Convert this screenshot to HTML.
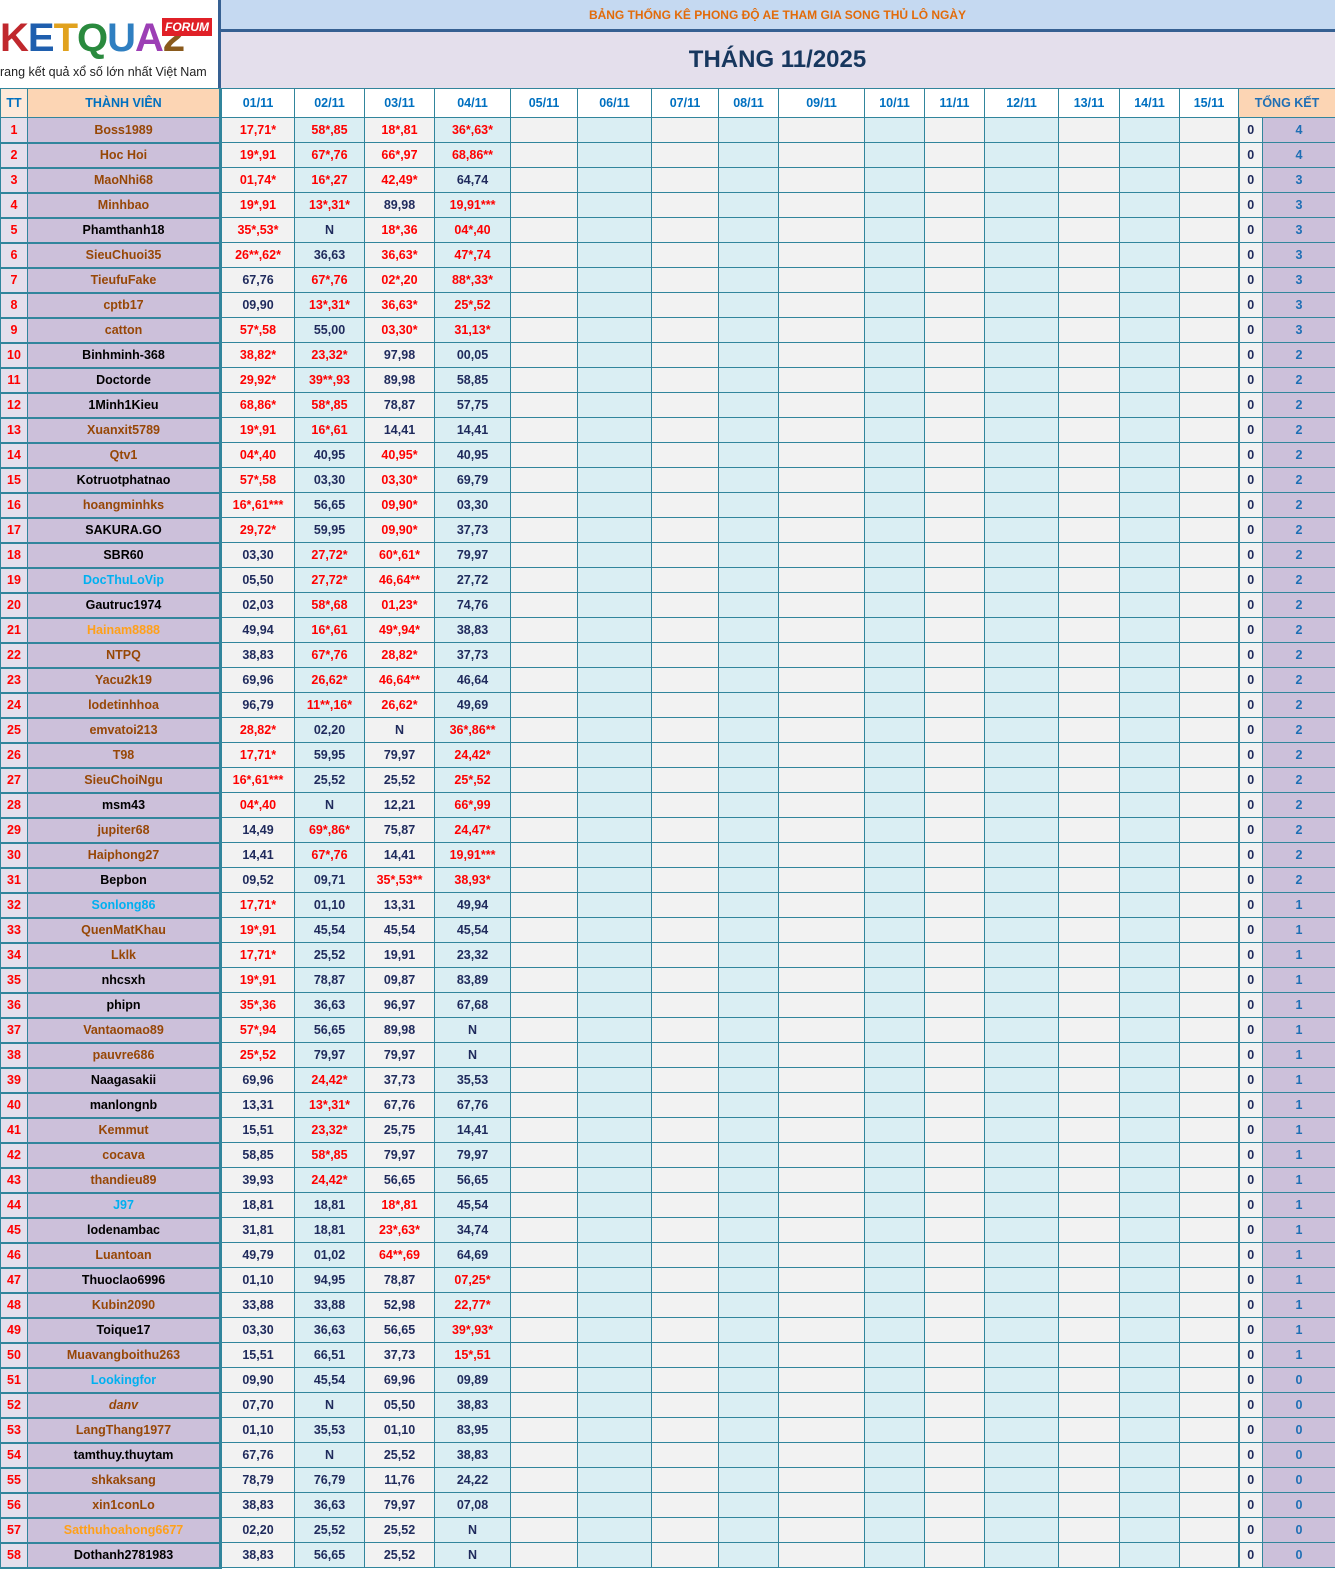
<!DOCTYPE html>
<html><head><meta charset="utf-8">
<style>
*{margin:0;padding:0;box-sizing:border-box}
body{width:1335px;height:1567px;background:#fff;font-family:"Liberation Sans","DejaVu Sans",sans-serif;font-weight:bold;position:relative;overflow:hidden}
#logo{position:absolute;left:0;top:0;width:218px;height:88px;background:#fff;overflow:hidden}
#top1{position:absolute;left:220px;top:0;width:1115px;height:30px;background:#c5d9f1;color:#e26b0a;font-size:12px;text-align:center;line-height:30px;font-weight:bold}
#bar{position:absolute;left:220px;top:29px;width:1115px;height:3px;background:#366092}
#top2{position:absolute;left:220px;top:32px;width:1115px;height:56px;background:#e4dfec;color:#17375e;font-size:24px;text-align:center;line-height:56px}
#vline{position:absolute;left:218px;top:0;width:3px;height:89px;background:#366092}
table{position:absolute;left:0;top:88px;border-collapse:collapse;table-layout:fixed;width:1335px}
td{border:1px solid #31859c;height:25px;text-align:center;font-size:12.5px;color:#1f2a5c;white-space:nowrap;overflow:hidden;padding:0}
tr.h td{height:29px;background:#fff;color:#0070c0;font-size:12.5px}
tr.h td:nth-child(1){background:#fde9d9;color:#0070c0}
tr.h td:nth-child(2){background:#fcd5b4;border-right:3px solid #31859c}
tr.h td.tk{background:#fcd5b4;color:#1f6fb5}
tbody tr:not(.h) td:nth-child(1){background:#e4dfec;color:#f00;border-bottom:2px solid #31859c}
tbody tr:not(.h) td:nth-child(2){background:#ccc0da;border-right:3px solid #31859c;border-bottom:2px solid #31859c}
tbody tr:not(.h) td:nth-child(odd){background:#f2f2f2}
tbody tr:not(.h) td:nth-child(even){background:#daeef3}
tbody tr:not(.h) td:nth-child(2){background:#ccc0da}
tbody tr:not(.h) td:nth-child(1){background:#e4dfec}
tbody tr:not(.h) td:nth-child(18){background:#f2f2f2;border-left:2px solid #31859c;color:#1f2a5c}
tbody tr:not(.h) td:nth-child(19){background:#ccc0da;color:#1f6fb5}
.r{color:#f00}
.b{color:#974706}.k{color:#000}.c{color:#00b0f0}.o{color:#ffa019}.i{font-style:italic}
</style></head><body>
<div id="logo">
<div style="position:absolute;left:0;top:16px;font-size:40px;font-weight:bold;letter-spacing:-1px;line-height:44px;white-space:nowrap"><span style="color:#c0282d">K</span><span style="color:#1f5fae">E</span><span style="color:#e1a21e">T</span><span style="color:#2a8a3e">Q</span><span style="color:#2f7fc1">U</span><span style="color:#9c3fb5">A</span><span style="color:#8a5a1c">2</span></div>
<div style="position:absolute;left:162px;top:18px;width:50px;height:18px;background:#e02027;color:#fff;font-size:12px;font-style:italic;text-align:center;line-height:18px">FORUM</div>
<div style="position:absolute;left:0;top:65px;font-size:12.5px;font-weight:normal;color:#222;white-space:nowrap">rang kết quả xổ số lớn nhất Việt Nam</div>
</div>
<div id="top1">BẢNG THỐNG KÊ PHONG ĐỘ AE THAM GIA SONG THỦ LÔ NGÀY</div>
<div id="bar"></div>
<div id="top2">THÁNG 11/2025</div>
<div id="vline"></div>
<table>
<colgroup><col style="width:27px"><col style="width:193px"><col style="width:74px"><col style="width:70px"><col style="width:70px"><col style="width:76px"><col style="width:67px"><col style="width:74px"><col style="width:67px"><col style="width:60px"><col style="width:86px"><col style="width:60px"><col style="width:60px"><col style="width:74px"><col style="width:61px"><col style="width:60px"><col style="width:59px"><col style="width:24px"><col style="width:73px"></colgroup>
<tbody>
<tr class="h"><td>TT</td><td>THÀNH VIÊN</td><td>01/11</td><td>02/11</td><td>03/11</td><td>04/11</td><td>05/11</td><td>06/11</td><td>07/11</td><td>08/11</td><td>09/11</td><td>10/11</td><td>11/11</td><td>12/11</td><td>13/11</td><td>14/11</td><td>15/11</td><td class="tk" colspan="2">TỔNG KẾT</td></tr>
<tr><td>1</td><td class="b">Boss1989</td><td class="r">17,71*</td><td class="r">58*,85</td><td class="r">18*,81</td><td class="r">36*,63*</td><td></td><td></td><td></td><td></td><td></td><td></td><td></td><td></td><td></td><td></td><td></td><td>0</td><td>4</td></tr>
<tr><td>2</td><td class="b">Hoc Hoi</td><td class="r">19*,91</td><td class="r">67*,76</td><td class="r">66*,97</td><td class="r">68,86**</td><td></td><td></td><td></td><td></td><td></td><td></td><td></td><td></td><td></td><td></td><td></td><td>0</td><td>4</td></tr>
<tr><td>3</td><td class="b">MaoNhi68</td><td class="r">01,74*</td><td class="r">16*,27</td><td class="r">42,49*</td><td>64,74</td><td></td><td></td><td></td><td></td><td></td><td></td><td></td><td></td><td></td><td></td><td></td><td>0</td><td>3</td></tr>
<tr><td>4</td><td class="b">Minhbao</td><td class="r">19*,91</td><td class="r">13*,31*</td><td>89,98</td><td class="r">19,91***</td><td></td><td></td><td></td><td></td><td></td><td></td><td></td><td></td><td></td><td></td><td></td><td>0</td><td>3</td></tr>
<tr><td>5</td><td class="k">Phamthanh18</td><td class="r">35*,53*</td><td>N</td><td class="r">18*,36</td><td class="r">04*,40</td><td></td><td></td><td></td><td></td><td></td><td></td><td></td><td></td><td></td><td></td><td></td><td>0</td><td>3</td></tr>
<tr><td>6</td><td class="b">SieuChuoi35</td><td class="r">26**,62*</td><td>36,63</td><td class="r">36,63*</td><td class="r">47*,74</td><td></td><td></td><td></td><td></td><td></td><td></td><td></td><td></td><td></td><td></td><td></td><td>0</td><td>3</td></tr>
<tr><td>7</td><td class="b">TieufuFake</td><td>67,76</td><td class="r">67*,76</td><td class="r">02*,20</td><td class="r">88*,33*</td><td></td><td></td><td></td><td></td><td></td><td></td><td></td><td></td><td></td><td></td><td></td><td>0</td><td>3</td></tr>
<tr><td>8</td><td class="b">cptb17</td><td>09,90</td><td class="r">13*,31*</td><td class="r">36,63*</td><td class="r">25*,52</td><td></td><td></td><td></td><td></td><td></td><td></td><td></td><td></td><td></td><td></td><td></td><td>0</td><td>3</td></tr>
<tr><td>9</td><td class="b">catton</td><td class="r">57*,58</td><td>55,00</td><td class="r">03,30*</td><td class="r">31,13*</td><td></td><td></td><td></td><td></td><td></td><td></td><td></td><td></td><td></td><td></td><td></td><td>0</td><td>3</td></tr>
<tr><td>10</td><td class="k">Binhminh-368</td><td class="r">38,82*</td><td class="r">23,32*</td><td>97,98</td><td>00,05</td><td></td><td></td><td></td><td></td><td></td><td></td><td></td><td></td><td></td><td></td><td></td><td>0</td><td>2</td></tr>
<tr><td>11</td><td class="k">Doctorde</td><td class="r">29,92*</td><td class="r">39**,93</td><td>89,98</td><td>58,85</td><td></td><td></td><td></td><td></td><td></td><td></td><td></td><td></td><td></td><td></td><td></td><td>0</td><td>2</td></tr>
<tr><td>12</td><td class="k">1Minh1Kieu</td><td class="r">68,86*</td><td class="r">58*,85</td><td>78,87</td><td>57,75</td><td></td><td></td><td></td><td></td><td></td><td></td><td></td><td></td><td></td><td></td><td></td><td>0</td><td>2</td></tr>
<tr><td>13</td><td class="b">Xuanxit5789</td><td class="r">19*,91</td><td class="r">16*,61</td><td>14,41</td><td>14,41</td><td></td><td></td><td></td><td></td><td></td><td></td><td></td><td></td><td></td><td></td><td></td><td>0</td><td>2</td></tr>
<tr><td>14</td><td class="b">Qtv1</td><td class="r">04*,40</td><td>40,95</td><td class="r">40,95*</td><td>40,95</td><td></td><td></td><td></td><td></td><td></td><td></td><td></td><td></td><td></td><td></td><td></td><td>0</td><td>2</td></tr>
<tr><td>15</td><td class="k">Kotruotphatnao</td><td class="r">57*,58</td><td>03,30</td><td class="r">03,30*</td><td>69,79</td><td></td><td></td><td></td><td></td><td></td><td></td><td></td><td></td><td></td><td></td><td></td><td>0</td><td>2</td></tr>
<tr><td>16</td><td class="b">hoangminhks</td><td class="r">16*,61***</td><td>56,65</td><td class="r">09,90*</td><td>03,30</td><td></td><td></td><td></td><td></td><td></td><td></td><td></td><td></td><td></td><td></td><td></td><td>0</td><td>2</td></tr>
<tr><td>17</td><td class="k">SAKURA.GO</td><td class="r">29,72*</td><td>59,95</td><td class="r">09,90*</td><td>37,73</td><td></td><td></td><td></td><td></td><td></td><td></td><td></td><td></td><td></td><td></td><td></td><td>0</td><td>2</td></tr>
<tr><td>18</td><td class="k">SBR60</td><td>03,30</td><td class="r">27,72*</td><td class="r">60*,61*</td><td>79,97</td><td></td><td></td><td></td><td></td><td></td><td></td><td></td><td></td><td></td><td></td><td></td><td>0</td><td>2</td></tr>
<tr><td>19</td><td class="c">DocThuLoVip</td><td>05,50</td><td class="r">27,72*</td><td class="r">46,64**</td><td>27,72</td><td></td><td></td><td></td><td></td><td></td><td></td><td></td><td></td><td></td><td></td><td></td><td>0</td><td>2</td></tr>
<tr><td>20</td><td class="k">Gautruc1974</td><td>02,03</td><td class="r">58*,68</td><td class="r">01,23*</td><td>74,76</td><td></td><td></td><td></td><td></td><td></td><td></td><td></td><td></td><td></td><td></td><td></td><td>0</td><td>2</td></tr>
<tr><td>21</td><td class="o">Hainam8888</td><td>49,94</td><td class="r">16*,61</td><td class="r">49*,94*</td><td>38,83</td><td></td><td></td><td></td><td></td><td></td><td></td><td></td><td></td><td></td><td></td><td></td><td>0</td><td>2</td></tr>
<tr><td>22</td><td class="b">NTPQ</td><td>38,83</td><td class="r">67*,76</td><td class="r">28,82*</td><td>37,73</td><td></td><td></td><td></td><td></td><td></td><td></td><td></td><td></td><td></td><td></td><td></td><td>0</td><td>2</td></tr>
<tr><td>23</td><td class="b">Yacu2k19</td><td>69,96</td><td class="r">26,62*</td><td class="r">46,64**</td><td>46,64</td><td></td><td></td><td></td><td></td><td></td><td></td><td></td><td></td><td></td><td></td><td></td><td>0</td><td>2</td></tr>
<tr><td>24</td><td class="b">lodetinhhoa</td><td>96,79</td><td class="r">11**,16*</td><td class="r">26,62*</td><td>49,69</td><td></td><td></td><td></td><td></td><td></td><td></td><td></td><td></td><td></td><td></td><td></td><td>0</td><td>2</td></tr>
<tr><td>25</td><td class="b">emvatoi213</td><td class="r">28,82*</td><td>02,20</td><td>N</td><td class="r">36*,86**</td><td></td><td></td><td></td><td></td><td></td><td></td><td></td><td></td><td></td><td></td><td></td><td>0</td><td>2</td></tr>
<tr><td>26</td><td class="b">T98</td><td class="r">17,71*</td><td>59,95</td><td>79,97</td><td class="r">24,42*</td><td></td><td></td><td></td><td></td><td></td><td></td><td></td><td></td><td></td><td></td><td></td><td>0</td><td>2</td></tr>
<tr><td>27</td><td class="b">SieuChoiNgu</td><td class="r">16*,61***</td><td>25,52</td><td>25,52</td><td class="r">25*,52</td><td></td><td></td><td></td><td></td><td></td><td></td><td></td><td></td><td></td><td></td><td></td><td>0</td><td>2</td></tr>
<tr><td>28</td><td class="k">msm43</td><td class="r">04*,40</td><td>N</td><td>12,21</td><td class="r">66*,99</td><td></td><td></td><td></td><td></td><td></td><td></td><td></td><td></td><td></td><td></td><td></td><td>0</td><td>2</td></tr>
<tr><td>29</td><td class="b">jupiter68</td><td>14,49</td><td class="r">69*,86*</td><td>75,87</td><td class="r">24,47*</td><td></td><td></td><td></td><td></td><td></td><td></td><td></td><td></td><td></td><td></td><td></td><td>0</td><td>2</td></tr>
<tr><td>30</td><td class="b">Haiphong27</td><td>14,41</td><td class="r">67*,76</td><td>14,41</td><td class="r">19,91***</td><td></td><td></td><td></td><td></td><td></td><td></td><td></td><td></td><td></td><td></td><td></td><td>0</td><td>2</td></tr>
<tr><td>31</td><td class="k">Bepbon</td><td>09,52</td><td>09,71</td><td class="r">35*,53**</td><td class="r">38,93*</td><td></td><td></td><td></td><td></td><td></td><td></td><td></td><td></td><td></td><td></td><td></td><td>0</td><td>2</td></tr>
<tr><td>32</td><td class="c">Sonlong86</td><td class="r">17,71*</td><td>01,10</td><td>13,31</td><td>49,94</td><td></td><td></td><td></td><td></td><td></td><td></td><td></td><td></td><td></td><td></td><td></td><td>0</td><td>1</td></tr>
<tr><td>33</td><td class="b">QuenMatKhau</td><td class="r">19*,91</td><td>45,54</td><td>45,54</td><td>45,54</td><td></td><td></td><td></td><td></td><td></td><td></td><td></td><td></td><td></td><td></td><td></td><td>0</td><td>1</td></tr>
<tr><td>34</td><td class="b">Lklk</td><td class="r">17,71*</td><td>25,52</td><td>19,91</td><td>23,32</td><td></td><td></td><td></td><td></td><td></td><td></td><td></td><td></td><td></td><td></td><td></td><td>0</td><td>1</td></tr>
<tr><td>35</td><td class="k">nhcsxh</td><td class="r">19*,91</td><td>78,87</td><td>09,87</td><td>83,89</td><td></td><td></td><td></td><td></td><td></td><td></td><td></td><td></td><td></td><td></td><td></td><td>0</td><td>1</td></tr>
<tr><td>36</td><td class="k">phipn</td><td class="r">35*,36</td><td>36,63</td><td>96,97</td><td>67,68</td><td></td><td></td><td></td><td></td><td></td><td></td><td></td><td></td><td></td><td></td><td></td><td>0</td><td>1</td></tr>
<tr><td>37</td><td class="b">Vantaomao89</td><td class="r">57*,94</td><td>56,65</td><td>89,98</td><td>N</td><td></td><td></td><td></td><td></td><td></td><td></td><td></td><td></td><td></td><td></td><td></td><td>0</td><td>1</td></tr>
<tr><td>38</td><td class="b">pauvre686</td><td class="r">25*,52</td><td>79,97</td><td>79,97</td><td>N</td><td></td><td></td><td></td><td></td><td></td><td></td><td></td><td></td><td></td><td></td><td></td><td>0</td><td>1</td></tr>
<tr><td>39</td><td class="k">Naagasakii</td><td>69,96</td><td class="r">24,42*</td><td>37,73</td><td>35,53</td><td></td><td></td><td></td><td></td><td></td><td></td><td></td><td></td><td></td><td></td><td></td><td>0</td><td>1</td></tr>
<tr><td>40</td><td class="k">manlongnb</td><td>13,31</td><td class="r">13*,31*</td><td>67,76</td><td>67,76</td><td></td><td></td><td></td><td></td><td></td><td></td><td></td><td></td><td></td><td></td><td></td><td>0</td><td>1</td></tr>
<tr><td>41</td><td class="b">Kemmut</td><td>15,51</td><td class="r">23,32*</td><td>25,75</td><td>14,41</td><td></td><td></td><td></td><td></td><td></td><td></td><td></td><td></td><td></td><td></td><td></td><td>0</td><td>1</td></tr>
<tr><td>42</td><td class="b">cocava</td><td>58,85</td><td class="r">58*,85</td><td>79,97</td><td>79,97</td><td></td><td></td><td></td><td></td><td></td><td></td><td></td><td></td><td></td><td></td><td></td><td>0</td><td>1</td></tr>
<tr><td>43</td><td class="b">thandieu89</td><td>39,93</td><td class="r">24,42*</td><td>56,65</td><td>56,65</td><td></td><td></td><td></td><td></td><td></td><td></td><td></td><td></td><td></td><td></td><td></td><td>0</td><td>1</td></tr>
<tr><td>44</td><td class="c">J97</td><td>18,81</td><td>18,81</td><td class="r">18*,81</td><td>45,54</td><td></td><td></td><td></td><td></td><td></td><td></td><td></td><td></td><td></td><td></td><td></td><td>0</td><td>1</td></tr>
<tr><td>45</td><td class="k">lodenambac</td><td>31,81</td><td>18,81</td><td class="r">23*,63*</td><td>34,74</td><td></td><td></td><td></td><td></td><td></td><td></td><td></td><td></td><td></td><td></td><td></td><td>0</td><td>1</td></tr>
<tr><td>46</td><td class="b">Luantoan</td><td>49,79</td><td>01,02</td><td class="r">64**,69</td><td>64,69</td><td></td><td></td><td></td><td></td><td></td><td></td><td></td><td></td><td></td><td></td><td></td><td>0</td><td>1</td></tr>
<tr><td>47</td><td class="k">Thuoclao6996</td><td>01,10</td><td>94,95</td><td>78,87</td><td class="r">07,25*</td><td></td><td></td><td></td><td></td><td></td><td></td><td></td><td></td><td></td><td></td><td></td><td>0</td><td>1</td></tr>
<tr><td>48</td><td class="b">Kubin2090</td><td>33,88</td><td>33,88</td><td>52,98</td><td class="r">22,77*</td><td></td><td></td><td></td><td></td><td></td><td></td><td></td><td></td><td></td><td></td><td></td><td>0</td><td>1</td></tr>
<tr><td>49</td><td class="k">Toique17</td><td>03,30</td><td>36,63</td><td>56,65</td><td class="r">39*,93*</td><td></td><td></td><td></td><td></td><td></td><td></td><td></td><td></td><td></td><td></td><td></td><td>0</td><td>1</td></tr>
<tr><td>50</td><td class="b">Muavangboithu263</td><td>15,51</td><td>66,51</td><td>37,73</td><td class="r">15*,51</td><td></td><td></td><td></td><td></td><td></td><td></td><td></td><td></td><td></td><td></td><td></td><td>0</td><td>1</td></tr>
<tr><td>51</td><td class="c">Lookingfor</td><td>09,90</td><td>45,54</td><td>69,96</td><td>09,89</td><td></td><td></td><td></td><td></td><td></td><td></td><td></td><td></td><td></td><td></td><td></td><td>0</td><td>0</td></tr>
<tr><td>52</td><td class="b i">danv</td><td>07,70</td><td>N</td><td>05,50</td><td>38,83</td><td></td><td></td><td></td><td></td><td></td><td></td><td></td><td></td><td></td><td></td><td></td><td>0</td><td>0</td></tr>
<tr><td>53</td><td class="b">LangThang1977</td><td>01,10</td><td>35,53</td><td>01,10</td><td>83,95</td><td></td><td></td><td></td><td></td><td></td><td></td><td></td><td></td><td></td><td></td><td></td><td>0</td><td>0</td></tr>
<tr><td>54</td><td class="k">tamthuy.thuytam</td><td>67,76</td><td>N</td><td>25,52</td><td>38,83</td><td></td><td></td><td></td><td></td><td></td><td></td><td></td><td></td><td></td><td></td><td></td><td>0</td><td>0</td></tr>
<tr><td>55</td><td class="b">shkaksang</td><td>78,79</td><td>76,79</td><td>11,76</td><td>24,22</td><td></td><td></td><td></td><td></td><td></td><td></td><td></td><td></td><td></td><td></td><td></td><td>0</td><td>0</td></tr>
<tr><td>56</td><td class="b">xin1conLo</td><td>38,83</td><td>36,63</td><td>79,97</td><td>07,08</td><td></td><td></td><td></td><td></td><td></td><td></td><td></td><td></td><td></td><td></td><td></td><td>0</td><td>0</td></tr>
<tr><td>57</td><td class="o">Satthuhoahong6677</td><td>02,20</td><td>25,52</td><td>25,52</td><td>N</td><td></td><td></td><td></td><td></td><td></td><td></td><td></td><td></td><td></td><td></td><td></td><td>0</td><td>0</td></tr>
<tr><td>58</td><td class="k">Dothanh2781983</td><td>38,83</td><td>56,65</td><td>25,52</td><td>N</td><td></td><td></td><td></td><td></td><td></td><td></td><td></td><td></td><td></td><td></td><td></td><td>0</td><td>0</td></tr>
</tbody></table>
</body></html>
